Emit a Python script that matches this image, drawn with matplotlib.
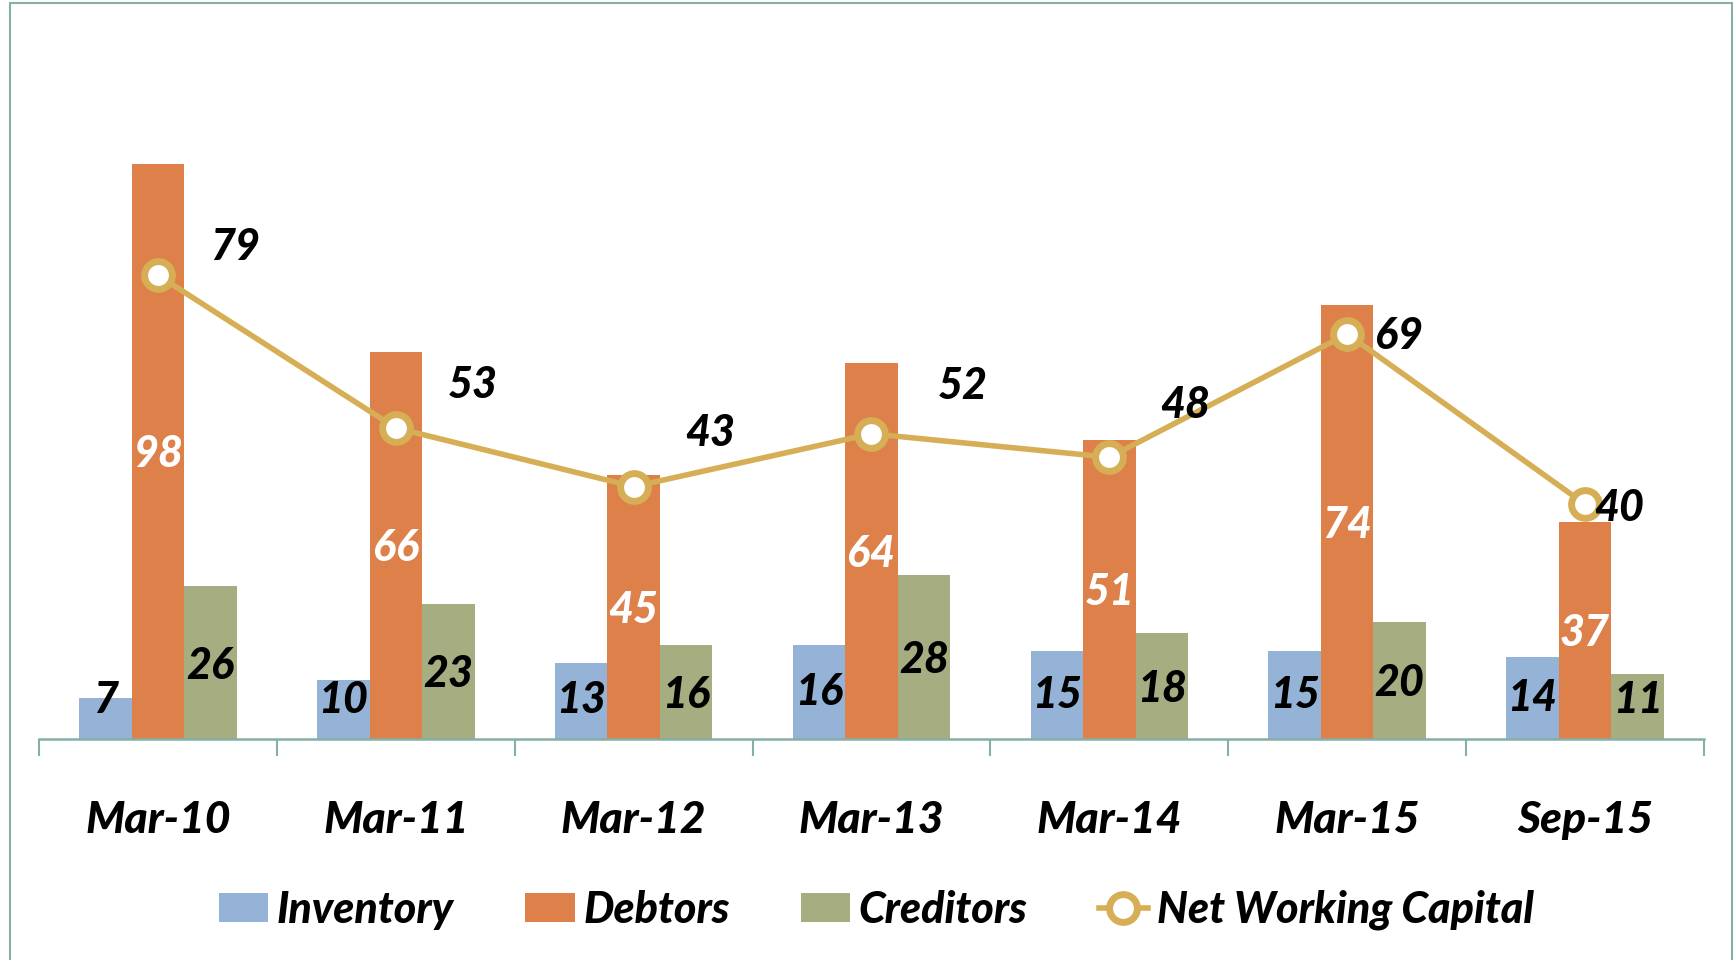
import matplotlib.pyplot as plt
import matplotlib as mpl
from matplotlib.patches import Rectangle
import numpy as np

# data
periods = ["Mar-10", "Mar-11", "Mar-12", "Mar-13", "Mar-14", "Mar-15", "Sep-15"]
inventory = [7, 10, 13, 16, 15, 15, 14]
debtors = [98, 66, 45, 64, 51, 74, 37]
creditors = [26, 23, 16, 28, 18, 20, 11]
nwc = [79, 53, 43, 52, 48, 69, 40]

# where the line labels sit relative to their points (pixels)
nwc_label_off = [(77, 28), (77, 43), (77, 54), (91, 48), (76, 52), (52, -2), (34, -4)]

c_inv = "#95B3D7"
c_deb = "#DE8049"
c_cre = "#A6AD81"
c_nwc = "#D6AE55"
c_axis = "#86AFA7"

mpl.rcParams["font.family"] = ["Lato", "DejaVu Sans"]
mpl.rcParams["font.weight"] = "black"
mpl.rcParams["font.style"] = "italic"

fig = plt.figure(figsize=(17.35, 9.6), dpi=100)
ax = fig.add_axes((39 / 1735, 1 - 739 / 960, (1704 - 39) / 1735, (739 - 20) / 960))

x = np.arange(len(periods))
w = 0.221
b1 = ax.bar(x - w, inventory, w, color=c_inv, label="Inventory")
b2 = ax.bar(x, debtors, w, color=c_deb, label="Debtors")
b3 = ax.bar(x + w, creditors, w, color=c_cre, label="Creditors")
ln, = ax.plot(x, nwc, color=c_nwc, lw=4, marker="o", ms=20, mfc="white",
              mec=c_nwc, mew=5, label="Net Working Capital", zorder=5)

fs = 31
for i in range(len(x)):
    ax.text(x[i] - w, max(inventory[i] / 2, 6.6), str(inventory[i]), ha="center",
            va="center", fontsize=fs, color="black")
    ax.text(x[i], debtors[i] / 2 - 0.5, str(debtors[i]), ha="center",
            va="center", fontsize=fs, color="white")
    ax.text(x[i] + w, max(creditors[i] / 2 - 0.5, 6.6), str(creditors[i]), ha="center",
            va="center", fontsize=fs, color="black")
    ax.annotate(str(nwc[i]), (x[i], nwc[i]), xytext=nwc_label_off[i],
                textcoords="offset pixels", ha="center", va="center",
                fontsize=fs, color="black", zorder=6)

ax.set_xlim(-0.5, len(periods) - 0.5)
ax.set_ylim(0, 122.5)
ax.set_yticks([])
for s in ["top", "right", "left"]:
    ax.spines[s].set_visible(False)
ax.spines["bottom"].set_color(c_axis)
ax.spines["bottom"].set_linewidth(1.8)

ax.set_xticks(np.arange(len(periods) + 1) - 0.5)
ax.set_xticklabels([])
ax.set_xticks(x, minor=True)
ax.set_xticklabels(periods, minor=True, fontsize=fs + 1)
ax.tick_params(axis="x", which="major", length=12, width=1.5, color=c_axis)
ax.tick_params(axis="x", which="minor", length=0, pad=44)

fig.legend([b1, b2, b3, ln], ["Inventory", "Debtors", "Creditors", "Net Working Capital"],
           loc="center", bbox_to_anchor=(0.505, 1 - 910 / 960), ncol=4,
           frameon=False, fontsize=fs, handlelength=1.15, handletextpad=0.2,
           columnspacing=1.65, handleheight=0.65)

fig.patches.append(Rectangle((10 / 1735, -0.05), 1722 / 1735, 1.05 - 3 / 960,
                             transform=fig.transFigure, fill=False,
                             edgecolor=c_axis, lw=1.5))

plt.savefig("out.png", dpi=100)
plt.close()
